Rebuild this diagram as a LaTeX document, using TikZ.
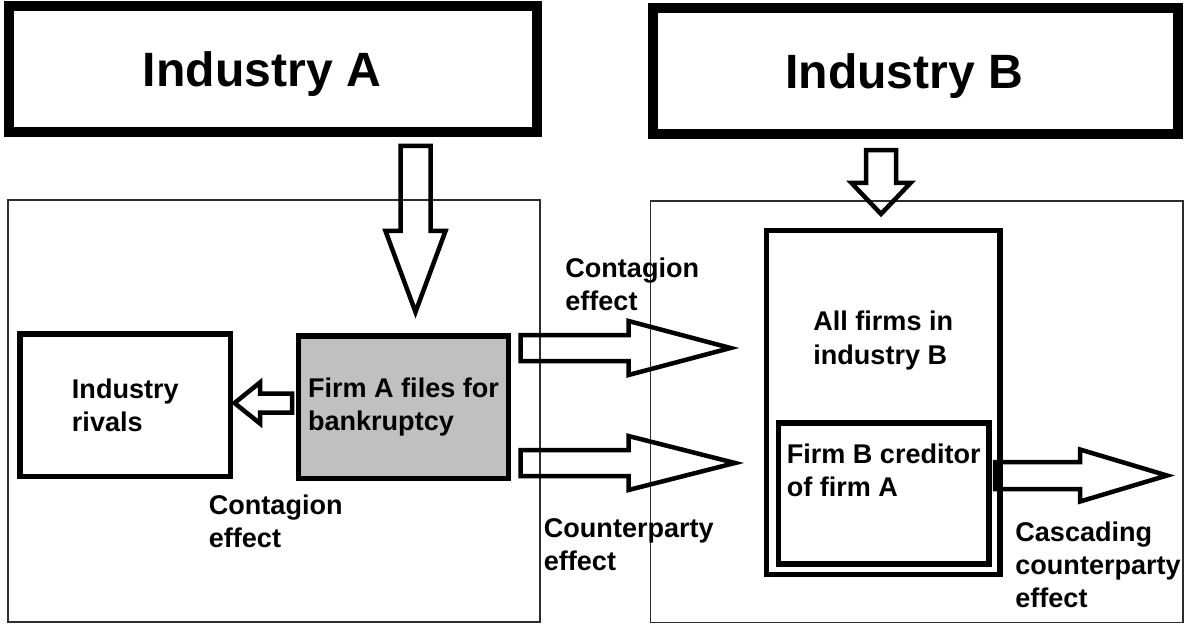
\documentclass[tikz,border=0pt]{standalone}
\usepackage{fontspec}
\setmainfont{Liberation Sans}
\usetikzlibrary{calc,positioning}
\definecolor{firmgray}{RGB}{192,192,192}
\definecolor{framegray}{RGB}{45,45,45}

\begin{document}
\begin{tikzpicture}[
    industry/.style={rectangle, draw, line width=0.2cm, outer sep=0pt,
      minimum width=10.55cm, minimum height=2.52cm, text depth=0pt,
      font=\fontsize{27.4}{33}\selectfont\bfseries},
    firmbox/.style={rectangle, draw, line width=0.11cm, outer sep=0pt, align=left,
      font=\fontsize{15.4}{18.8}\selectfont\bfseries},
    frame/.style={rectangle, draw=framegray, line width=0.8pt, outer sep=0pt},
    lbl/.style={anchor=west, align=left, inner sep=0pt,
      font=\fontsize{15.4}{18.8}\selectfont\bfseries},
    % hollow block arrow: shaft half width, head half width, head length
    fatarr/.style n args={3}{line width=0.09cm, line join=miter, to path={
        ($(\tikztostart)!#1!90:(\tikztotarget)$)
        -- ($(\tikztotarget)!#3!(\tikztostart)!#1!90:(\tikztotarget)$)
        -- ($(\tikztotarget)!#3!(\tikztostart)!#2!90:(\tikztotarget)$)
        -- (\tikztotarget)
        -- ($(\tikztotarget)!#3!(\tikztostart)!#2!-90:(\tikztotarget)$)
        -- ($(\tikztotarget)!#3!(\tikztostart)!#1!-90:(\tikztotarget)$)
        -- ($(\tikztostart)!#1!-90:(\tikztotarget)$)
        -- cycle}}
  ]
    \useasboundingbox (0,0) rectangle (23.68,-12.48);

    % the two industries
    \node[frame, minimum width=10.64cm, minimum height=8.44cm] (grpA) at (5.48,-8.22) {};
    \node[frame, minimum width=10.65cm, minimum height=8.43cm] (grpB) at (18.335,-8.235) {};

    \node[industry] (indA) at (5.465,-1.38) {Industry A\hspace*{0.45cm}};
    \node[industry, minimum width=10.5cm] (indB) at (18.31,-1.415) {Industry B\hspace*{0.45cm}};

    \node[firmbox, minimum width=4.21cm, minimum height=2.85cm] (rivals) at (2.507,-8.105) {Industry\\rivals};
    \node[firmbox, fill=firmgray, minimum width=4.2cm, minimum height=2.85cm] (firmA) at (8.07,-8.145) {Firm A files for\\bankruptcy};

    \node[firmbox, minimum width=4.67cm, minimum height=6.88cm] (allb) at (17.665,-8.05) {};
    \node[firmbox, minimum width=4.21cm, minimum height=2.82cm] (firmb) at (17.675,-9.87) {};
    \node[lbl, anchor=center] (allbtxt) at ([yshift=1.24cm]allb.center) {All firms in\\industry B};
    \node[lbl, anchor=center] (firmbtxt) at ([yshift=0.46cm]firmb.center) {Firm B creditor\\of firm A};

    % arrow ends
    \coordinate (dnA)     at ([xshift=2.845cm, yshift=-0.28cm]indA.south);
    \coordinate (dnAtip)  at ([xshift=0.24cm, yshift=0.48cm]firmA.north);
    \coordinate (dnB)     at ([xshift=-0.69cm, yshift=-0.33cm]indB.south);
    \coordinate (dnBtip)  at ([xshift=-0.045cm, yshift=0.33cm]allb.north);
    \coordinate (riv)     at ([xshift=-0.13cm, yshift=0.085cm]firmA.west);
    \coordinate (rivtip)  at ([xshift=0.078cm, yshift=0.045cm]rivals.east);
    \coordinate (ctg)     at ([xshift=0.24cm, yshift=1.185cm]firmA.east);
    \coordinate (ctgtip)  at ([xshift=-0.72cm, yshift=1.09cm]allb.west);
    \coordinate (cpt)     at ([xshift=0.24cm, yshift=-1.115cm]firmA.east);
    \coordinate (cpttip)  at ([xshift=-0.63cm, yshift=-1.21cm]allb.west);
    \coordinate (casc)    at ([xshift=0.12cm, yshift=0.36cm]firmb.east);
    \coordinate (casctip) at (23.34,-9.51);

    \draw[fatarr={0.3cm}{0.6cm}{1.62cm}]   (dnA) to (dnAtip);
    \draw[fatarr={0.3cm}{0.59cm}{0.62cm}]  (dnB) to (dnBtip);
    \draw[fatarr={0.19cm}{0.41cm}{0.51cm}] (riv) to (rivtip);
    \draw[fatarr={0.26cm}{0.54cm}{2.04cm}] (ctg) to (ctgtip);
    \draw[fatarr={0.26cm}{0.54cm}{2.13cm}] (cpt) to (cpttip);
    \draw[fatarr={0.27cm}{0.52cm}{1.74cm}] (casc) to (casctip);

    % effect labels
    \node[lbl] (ctgtop)  at (11.3,-5.68)  {Contagion\\effect};
    \node[lbl] (ctgleft) at (4.17,-10.43) {Contagion\\effect};
    \node[lbl] (cpty)    at (10.87,-10.89) {Counterparty\\effect};
    \node[lbl] (cascl)   at (20.3,-11.3)  {Cascading\\counterparty\\effect};
\end{tikzpicture}
\end{document}
